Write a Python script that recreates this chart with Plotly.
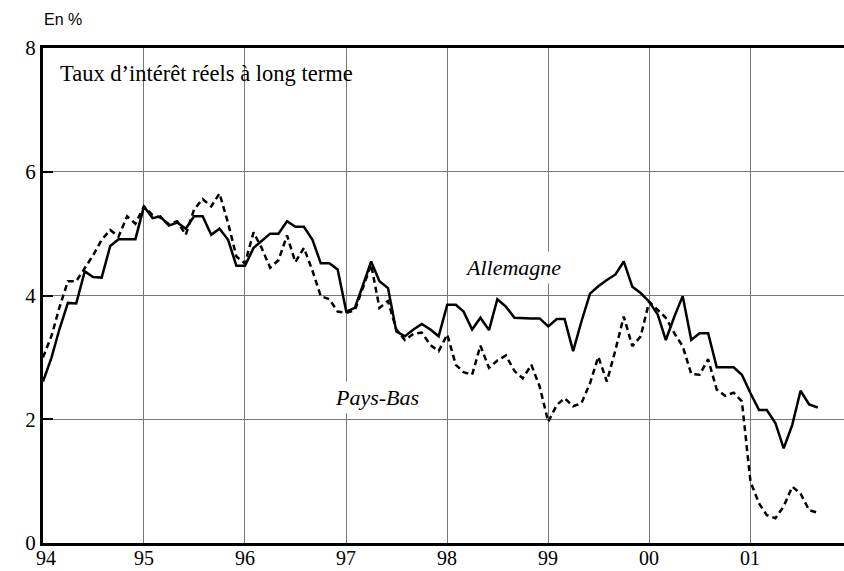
import pandas as pd
import plotly.graph_objects as go

# Monthly series, Jan 1994 -> Sep 2001
dates = pd.date_range("1994-01-01", periods=93, freq="MS")

allemagne = [
    2.61, 3.00, 3.45, 3.88, 3.87, 4.39, 4.30, 4.29, 4.80, 4.91, 4.91, 4.91,
    5.44, 5.25, 5.28, 5.13, 5.18, 5.08, 5.28, 5.28, 4.98, 5.08, 4.90, 4.48,
    4.48, 4.77, 4.88, 5.00, 5.00, 5.20, 5.11, 5.11, 4.90, 4.52, 4.52, 4.42,
    3.74, 3.80, 4.15, 4.55, 4.23, 4.12, 3.42, 3.34, 3.45, 3.54, 3.45, 3.34,
    3.85, 3.85, 3.74, 3.45, 3.64, 3.44, 3.94, 3.82, 3.64, 3.63, 3.63, 3.63,
    3.50, 3.62, 3.62, 3.10, 3.58, 4.03, 4.15, 4.25, 4.34, 4.55, 4.14, 4.04,
    3.90, 3.69, 3.28, 3.66, 3.99, 3.28, 3.39, 3.39, 2.84, 2.84, 2.84, 2.72,
    2.42, 2.15, 2.15, 1.94, 1.53, 1.91, 2.46, 2.24, 2.19,
]

pays_bas = [
    3.00, 3.35, 3.80, 4.23, 4.23, 4.44, 4.65, 4.90, 5.06, 4.95, 5.28, 5.16,
    5.44, 5.30, 5.26, 5.15, 5.20, 4.98, 5.39, 5.56, 5.44, 5.65, 5.17, 4.63,
    4.52, 5.02, 4.77, 4.45, 4.57, 4.97, 4.54, 4.77, 4.40, 3.99, 3.94, 3.74,
    3.72, 3.76, 4.10, 4.50, 3.80, 3.91, 3.45, 3.28, 3.38, 3.40, 3.20, 3.10,
    3.37, 2.88, 2.76, 2.72, 3.19, 2.83, 2.95, 3.03, 2.78, 2.66, 2.88, 2.53,
    1.96, 2.23, 2.34, 2.21, 2.26, 2.58, 3.01, 2.61, 3.12, 3.66, 3.18, 3.34,
    3.90, 3.77, 3.64, 3.39, 3.18, 2.73, 2.72, 2.97, 2.48, 2.38, 2.43, 2.29,
    0.99, 0.64, 0.45, 0.40, 0.59, 0.91, 0.80, 0.53, 0.49,
]

year_ticks = pd.date_range("1994-01-01", periods=8, freq="YS")
year_labels = ["94", "95", "96", "97", "98", "99", "00", "01"]

serif = "Liberation Serif"

fig = go.Figure()
fig.add_trace(go.Scatter(x=dates, y=pays_bas, mode="lines", name="Pays-Bas",
                         line=dict(color="black", width=2.5, dash="6px,4px")))
fig.add_trace(go.Scatter(x=dates, y=allemagne, mode="lines", name="Allemagne",
                         line=dict(color="black", width=2.5)))

fig.update_xaxes(
    range=["1994-01-01", "2001-12-05"],
    dtick="M12", tick0="1994-01-01", showticklabels=False,
    showgrid=True, gridcolor="#777777", gridwidth=1.2,
    showline=True, linecolor="black", linewidth=3, mirror=True,
    ticks="", zeroline=False,
)
fig.update_yaxes(
    range=[0, 8], dtick=2,
    showgrid=True, gridcolor="#777777", gridwidth=1.2,
    showline=True, linecolor="black", linewidth=3,
    ticks="inside", ticklen=10, tickwidth=2, tickcolor="black",
    tickfont=dict(family=serif, size=21, color="black"),
    zeroline=False,
)

# year labels under the axis (placed tight to the axis line as in the source)
for i, (d, lab) in enumerate(zip(year_ticks, year_labels)):
    fig.add_annotation(text=lab, x=d, xref="x", y=-0.007, yref="paper",
                       xanchor="center", yanchor="top", showarrow=False,
                       xshift=3 if i == 0 else 0,
                       borderpad=0, font=dict(family=serif, size=20, color="black"))

fig.add_annotation(text="Taux d’intérêt réels à long terme", xref="paper", yref="paper",
                   x=0.0187, y=0.949, xanchor="left", yanchor="middle", showarrow=False,
                   font=dict(family=serif, size=22.5, color="black"))
fig.add_annotation(text="<i>Allemagne</i>", x="1998-08-25", y=4.45, showarrow=False,
                   bgcolor="white", borderpad=3,
                   font=dict(family=serif, size=22, color="black"))
fig.add_annotation(text="<i>Pays-Bas</i>", x="1997-04-22", y=2.35, showarrow=False,
                   bgcolor="white", borderpad=3,
                   font=dict(family=serif, size=22, color="black"))
fig.add_annotation(text="En %", xref="paper", yref="paper", x=-0.001, y=1.057,
                   xanchor="left", yanchor="middle", showarrow=False,
                   font=dict(family="Liberation Sans", size=16, color="black"))

fig.update_layout(
    width=844, height=571,
    margin=dict(l=43, r=0, t=48, b=28),
    paper_bgcolor="white", plot_bgcolor="white",
    showlegend=False, hovermode=False,
)

fig.write_html("out.html", config={"displayModeBar": False},
               post_script="document.body.style.margin='0';")
